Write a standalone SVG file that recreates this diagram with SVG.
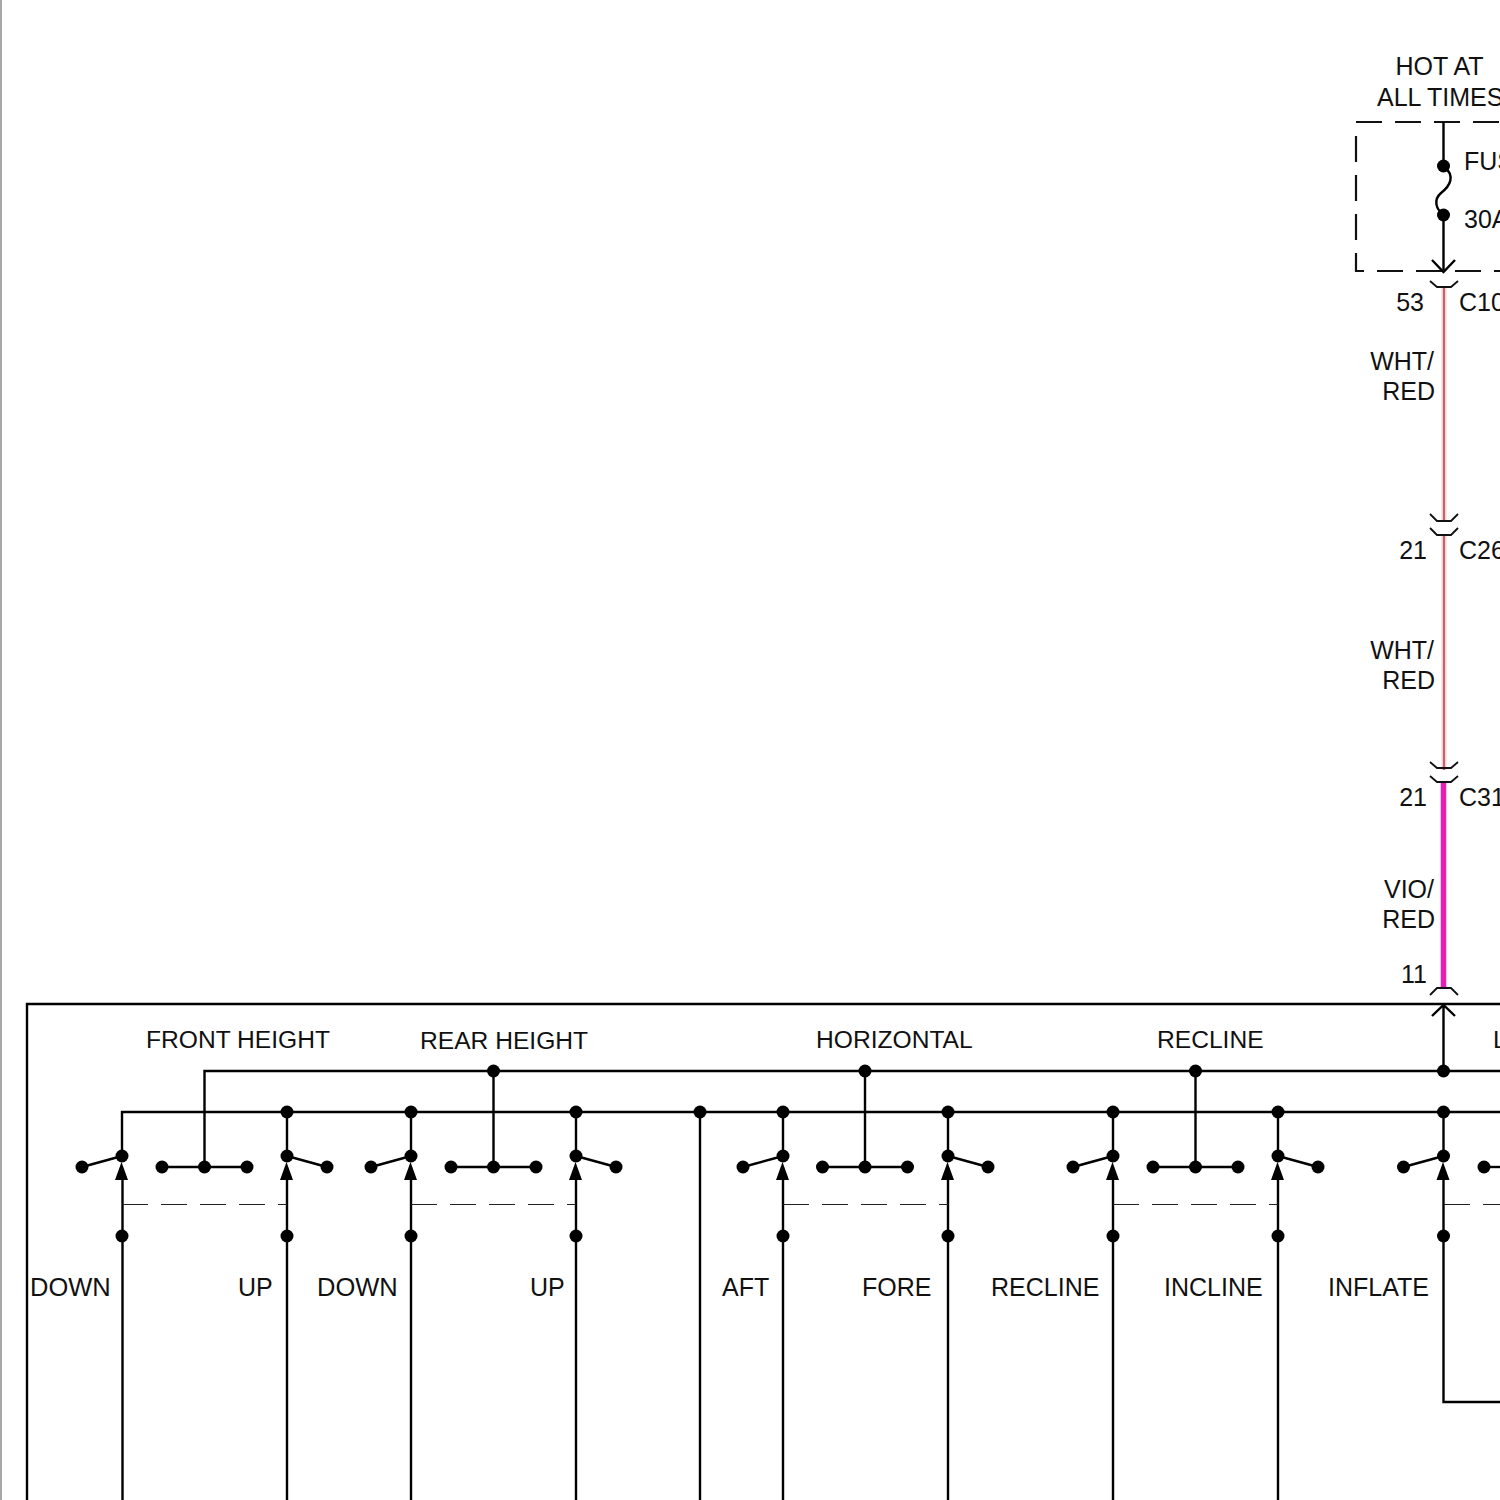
<svg xmlns="http://www.w3.org/2000/svg" width="1500" height="1500" viewBox="0 0 1500 1500">
<style>
text{font-family:"Liberation Sans",Arial,sans-serif;font-size:25px;fill:#111}
.e{text-anchor:end}.m{text-anchor:middle}
.h{font-size:24.600px}
.b{font-size:25.500px}
.w{fill:none;stroke:#000;stroke-width:2.400}
.t{fill:none;stroke:#111;stroke-width:1.800}
.d{fill:none;stroke:#111;stroke-width:2.200;stroke-dasharray:26 13}
.g{fill:none;stroke:#222;stroke-width:1.200;stroke-dasharray:26 13}
.pk{fill:none;stroke:#f4d2d2;stroke-width:5}
.rd{fill:none;stroke:#c03a48;stroke-width:1.500}
</style>
<defs>
<circle id="dot" r="6.500" fill="#000"/>
<g id="swL"><path class="w" d="M0 0L-40 11"/><use href="#dot"/><use href="#dot" x="-40" y="11"/><path d="M-0.500 6L-7 24L6 24Z" fill="#000"/></g>
<g id="swR"><path class="w" d="M0 0L40 11"/><use href="#dot"/><use href="#dot" x="40" y="11"/><path d="M-0.500 6L-7 24L6 24Z" fill="#000"/></g>
<g id="mid"><path class="w" d="M-42.500 0L42.500 0"/><use href="#dot" x="-42.500"/><use href="#dot"/><use href="#dot" x="42.500"/></g>
</defs>
<rect width="1500" height="1500" fill="#fff"/>
<path d="M1 0V1500" stroke="#a8a8a8" stroke-width="2" fill="none"/>

<g id="connectors">
<path class="w" d="M27 1500V1004H1500"/>
<path class="d" d="M1356 122H1500M1356 136V271H1500"/>
<path class="w" d="M1443.500 122V166M1443.500 215V270"/>
<path class="w" d="M1443.500 166C1456 176 1450 186 1441 193C1433 200 1436 209 1443.500 215"/>
<path class="w" d="M1432 260L1443.500 272L1455 260"/>
<path class="pk" d="M1444 288V522M1444 536V770"/>
<path class="rd" d="M1444 288V522M1444 536V770"/>
<path d="M1443.500 783V988" stroke="#e81fb0" stroke-width="5.500" fill="none"/>
<path class="t" d="M1430 281L1437 287H1451L1458 281M1430 514L1437 521H1451L1458 514M1430 528L1437 535H1451L1458 528M1430 762L1437 768H1451L1458 762M1430 776L1437 782H1451L1458 776M1430 995L1437 988H1451L1458 995"/>
<path class="w" d="M1443.500 1006V1071M1432 1016L1443.500 1005L1455 1016"/>
<path class="w" d="M204.500 1167V1071H1500M122 1156V1112H1500"/>
<path class="w" d="M493.500 1071V1167M865 1071V1167M1195.500 1071V1167"/>
<path class="w" d="M287 1112V1156M411 1112V1156M576 1112V1156M783 1112V1156M948 1112V1156M1113 1112V1156M1278 1112V1156M1443.500 1112V1156"/>
<path class="w" d="M122.500 1170V1500M287 1170V1500M411 1170V1500M576 1170V1500M700 1112V1500M783 1170V1500M948 1170V1500M1113 1170V1500M1278 1170V1500M1443.500 1170V1402H1500"/>
<path class="g" d="M122 1204.500H287M411 1204.500H576M783 1204.500H948M1113 1204.500H1278M1444 1204.500H1500"/>
</g>

<g id="fuse"><use href="#dot" x="1443.500" y="166"/><use href="#dot" x="1443.500" y="215"/>
<text x="1464" y="170">FUS</text><text x="1464" y="228">30A</text>
<text class="m" x="1439.500" y="75">HOT AT</text><text x="1377" y="106">ALL TIMES</text></g>

<g id="wire-labels">
<text class="e" x="1424" y="311">53</text><text x="1459" y="311">C10</text>
<text class="e" x="1434" y="370">WHT/</text><text class="e" x="1435" y="400">RED</text>
<text class="e" x="1427" y="559">21</text><text x="1459" y="559">C26</text>
<text class="e" x="1434" y="659">WHT/</text><text class="e" x="1435" y="689">RED</text>
<text class="e" x="1427" y="806">21</text><text x="1459" y="806">C31</text>
<text class="e" x="1434" y="898">VIO/</text><text class="e" x="1435" y="928">RED</text>
<text class="e" x="1427" y="983">11</text>
</g>

<g id="section-labels">
<text class="h" x="146" y="1048">FRONT HEIGHT</text>
<text class="h" x="420" y="1049">REAR HEIGHT</text>
<text class="h" x="816" y="1048">HORIZONTAL</text>
<text class="h" x="1157" y="1048">RECLINE</text>
<text class="h" x="1493" y="1048">L</text>
</g>

<g id="bus-dots">
<use href="#dot" x="493.500" y="1071"/><use href="#dot" x="865" y="1071"/><use href="#dot" x="1195.500" y="1071"/><use href="#dot" x="1443.500" y="1071"/>
<use href="#dot" x="287" y="1112"/><use href="#dot" x="411" y="1112"/><use href="#dot" x="576" y="1112"/><use href="#dot" x="700" y="1112"/><use href="#dot" x="783" y="1112"/><use href="#dot" x="948" y="1112"/><use href="#dot" x="1113" y="1112"/><use href="#dot" x="1278" y="1112"/><use href="#dot" x="1443.500" y="1112"/>
</g>

<g id="switch-front-height">
<use href="#swL" x="122" y="1156"/><use href="#mid" x="204.500" y="1167"/><use href="#swR" x="287" y="1156"/>
<use href="#dot" x="122" y="1236"/><use href="#dot" x="287" y="1236"/>
<text class="b" x="30" y="1296">DOWN</text><text x="238" y="1296">UP</text>
</g>
<g id="switch-rear-height">
<use href="#swL" x="411" y="1156"/><use href="#mid" x="493.500" y="1167"/><use href="#swR" x="576" y="1156"/>
<use href="#dot" x="411" y="1236"/><use href="#dot" x="576" y="1236"/>
<text class="b" x="317" y="1296">DOWN</text><text x="530" y="1296">UP</text>
</g>
<g id="switch-horizontal">
<use href="#swL" x="783" y="1156"/><use href="#mid" x="865" y="1167"/><use href="#swR" x="948" y="1156"/>
<use href="#dot" x="783" y="1236"/><use href="#dot" x="948" y="1236"/>
<text x="722" y="1296">AFT</text><text x="862" y="1296">FORE</text>
</g>
<g id="switch-recline">
<use href="#swL" x="1113" y="1156"/><use href="#mid" x="1195.500" y="1167"/><use href="#swR" x="1278" y="1156"/>
<use href="#dot" x="1113" y="1236"/><use href="#dot" x="1278" y="1236"/>
<text x="991" y="1296">RECLINE</text><text x="1164" y="1296">INCLINE</text>
</g>
<g id="switch-lumbar">
<use href="#swL" x="1443.500" y="1156"/><use href="#dot" x="1484" y="1167"/><path class="w" d="M1484 1167H1500"/>
<use href="#dot" x="1443.500" y="1236"/>
<text x="1328" y="1296">INFLATE</text>
</g>
</svg>
